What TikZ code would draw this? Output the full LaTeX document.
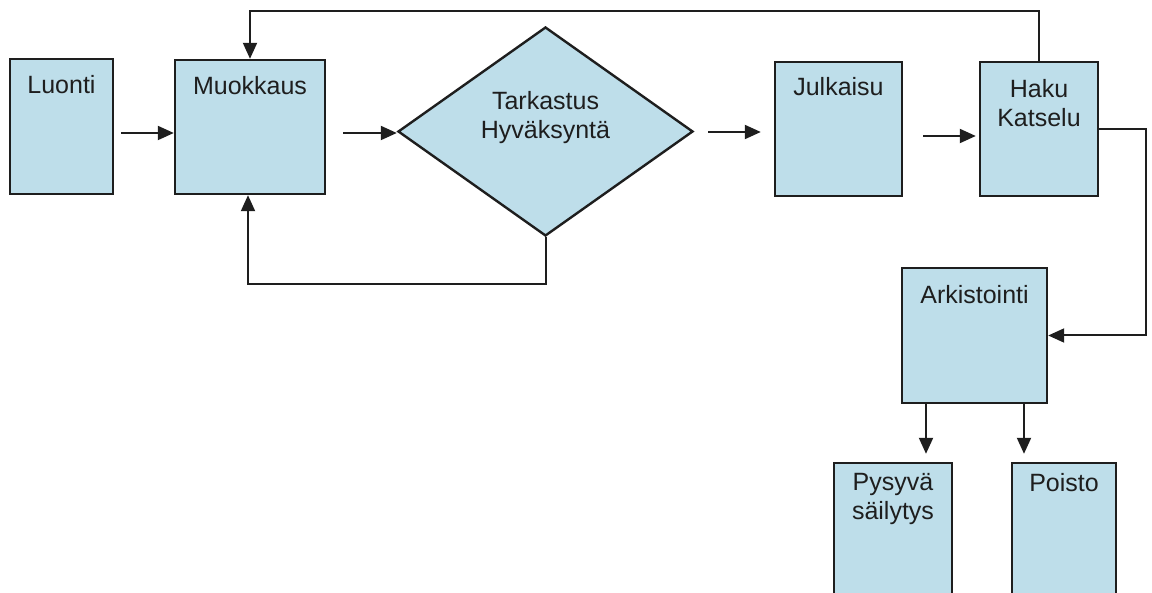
\documentclass[tikz,border=0pt]{standalone}
\usepackage{fontspec}
\setmainfont{Liberation Sans}
\usepackage{tikz}
\usetikzlibrary{arrows.meta, positioning, calc, shapes.geometric}
\usepackage{xcolor}
\definecolor{boxblue}{RGB}{190,222,234}
\definecolor{ink}{RGB}{30,30,30}

\tikzset{
  box/.style={draw=ink, line width=1.2pt, fill=boxblue, inner sep=0pt},
  boxtext/.style={anchor=north, inner sep=0pt, align=center, font=\fontsize{12.5}{14.5}\selectfont, text=ink},
  conn/.style={draw=ink, line width=1pt, -{Triangle[length=8pt,width=7pt]}}
}

\begin{document}
\begin{tikzpicture}[x=0.5pt, y=-0.5pt]
  \useasboundingbox (0,0) rectangle (1152,593);
  \clip (0,0) rectangle (1152,593);
  \node[box, minimum width=51.5pt, minimum height=67.5pt] (luonti) at (61.5,126.5) {};
  \node[box, minimum width=75pt, minimum height=67pt] (muok) at (250,127) {};
  \node[box, diamond, minimum width=147.5pt, minimum height=104.5pt] (tark) at (545.5,131.5) {};
  \node[box, minimum width=63.5pt, minimum height=67pt] (julk) at (838.5,129) {};
  \node[box, minimum width=59pt, minimum height=67pt] (haku) at (1039,129) {};
  \node[box, minimum width=72.5pt, minimum height=67.5pt] (arkisto) at (974.5,335.5) {};
  \node[box, minimum width=59pt, minimum height=75pt] (pysyva) at (893,538) {};
  \node[box, minimum width=52pt, minimum height=75pt] (poisto) at (1064,538) {};

  \node[boxtext] (luontitxt) at ([yshift=-8.5pt]luonti.north) {Luonti};
  \node[boxtext] (muoktxt) at ([yshift=-8.5pt]muok.north) {Muokkaus};
  \node[boxtext] (tarktxt) at ([yshift=20.5pt]tark.center) {Tarkastus\\Hyväksyntä};
  \node[boxtext] (julktxt) at ([yshift=-8pt]julk.north) {Julkaisu};
  \node[boxtext] (hakutxt) at ([yshift=-9pt]haku.north) {Haku\\Katselu};
  \node[boxtext] (arkistotxt) at ([yshift=-9pt]arkisto.north) {Arkistointi};
  \node[boxtext] (pysyvatxt) at ([yshift=-5.5pt]pysyva.north) {Pysyvä\\säilytys};
  \node[boxtext] (poistotxt) at ([yshift=-5.5pt]poisto.north) {Poisto};

  \draw[conn, shorten <=3.5pt] ([yshift=-3.25pt]luonti.east) -- ([yshift=-3pt]muok.west);
  \draw[conn, shorten <=8.5pt] ([yshift=-3pt]muok.east) -- ([yshift=-0.75pt]tark.west);
  \draw[conn, shorten <=7pt, shorten >=6.5pt] ([yshift=-0.25pt]tark.east) -- ([yshift=-1.5pt]julk.west);
  \draw[conn, shorten <=10pt, shorten >=1.5pt] ([yshift=-3.5pt]julk.east) -- ([yshift=-3.5pt]haku.west);
  \draw[conn] (haku.north) -- ++(0,-49.5) -| (muok.north);
  \draw[conn] (tark.south) -- ++(0,47) -| ([xshift=-1pt]muok.south);
  \draw[conn] (haku.east) -- ++(47,0) |- (arkisto.east);
  \coordinate (split1) at ([xshift=-24.25pt]arkisto.south);
  \coordinate (split2) at ([xshift=24.75pt]arkisto.south);
  \draw[conn, shorten >=4pt] (split1) -- (split1 |- pysyva.north);
  \draw[conn, shorten >=4pt] (split2) -- (split2 |- poisto.north);
\end{tikzpicture}
\end{document}
